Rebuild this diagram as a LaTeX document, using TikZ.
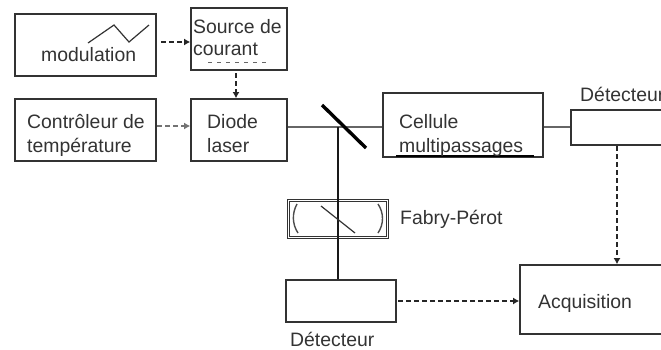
\documentclass[tikz,border=0pt]{standalone}
\usepackage{fontspec}
\setmainfont{Liberation Sans}
\usetikzlibrary{arrows.meta}
\tikzset{
	box/.style={draw=black!80, line width=1.7pt, inner sep=0pt},
	label/.style={anchor=base west, inner sep=0pt, align=left, text=black!80, font=\fontsize{19.4}{24}\selectfont},
	beam/.style={draw=black!60, line width=2.4pt},
	dasharrow/.style={draw=black!85, line width=1.4pt, dash pattern=on 5pt off 3pt, -{Latex[length=6pt,width=7pt]}},
}

\begin{document}
\begin{tikzpicture}[x=1pt, y=-1pt]
	\clip (0, 0) rectangle (661, 349);

	% boxes
	\node[box, minimum width=141pt, minimum height=62pt] (M) at (85.5, 45) {};
	\node[box, minimum width=96pt, minimum height=62pt] (S) at (239, 39) {};
	\node[box, minimum width=141pt, minimum height=62pt] (T) at (85.5, 130) {};
	\node[box, minimum width=96pt, minimum height=62pt] (L) at (239, 130) {};
	\node[box, minimum width=160pt, minimum height=64pt] (C) at (463, 125) {};
	\node[box, minimum width=129pt, minimum height=35pt] (R) at (635.5, 127.5) {};
	\node[box, double, line width=1.2pt, double distance=1.2pt, minimum width=99pt, minimum height=37pt] (F) at (338, 219) {};
	\node[box, minimum width=110pt, minimum height=42pt] (D) at (341, 301) {};
	\node[box, minimum width=180pt, minimum height=69pt] (Q) at (610, 299.5) {};
	\coordinate (K) at (338, 127);

	% beams
	\draw[beam] (L.east |- K) -- (C.west |- K);
	\draw[beam] (C.east |- K) -- (R.west |- K);
	\draw[black!90, line width=2.4pt] (K) -- (K |- D.north);
	\draw[black, line width=3.4pt] (322, 105) -- (366, 148);

	% dashed arrows
	\coordinate (M1) at (161, 42);
	\coordinate (S1) at (236, 73);
	\coordinate (T1) at (157, 126);
	\coordinate (D1) at (398, 301);
	\coordinate (R1) at (617, 146);
	\draw[dasharrow] (M1) -- (M1 -| S.west);
	\draw[dasharrow] (S1) -- (S1 |- L.north);
	\draw[dasharrow, draw=black!55] (T1) -- (T1 -| L.west);
	\draw[dasharrow] (D1) -- (D1 -| Q.west);
	\draw[dasharrow] (R1) -- (R1 |- Q.north);

	% small marks
	\draw[black!80, line width=1.2pt] (88, 43) -- (114, 25) -- (129, 42) -- (149, 25);
	\draw[black!60, line width=.8pt, dash pattern=on 4pt off 5pt] (208, 62) -- (268, 62);
	\draw[black, line width=1.2pt] (396, 156) -- (534, 156);
	\draw[black!70, line width=1.4pt] (297, 204) .. controls (292, 213) and (292, 224) .. (298, 233);
	\draw[black!70, line width=1.4pt] (378, 204) .. controls (384, 213) and (384, 224) .. (378, 233);
	\draw[black!80, line width=1.2pt] (321, 206) -- (355, 233);

	% texts
	\node[label] (t1) at (41, 61) {modulation};
	\node[label] (t2) at (193, 33) {Source de};
	\node[label] (t3) at (193, 55) {courant};
	\node[label] (t4) at (27, 128) {Contrôleur de};
	\node[label] (t5) at (27, 152) {température};
	\node[label] (t6) at (207, 128) {Diode};
	\node[label] (t7) at (207, 152) {laser};
	\node[label] (t8) at (399, 128) {Cellule};
	\node[label] (t9) at (399, 152) {multipassages};
	\node[label] (t10) at (580, 101) {Détecteur};
	\node[label] (t11) at (400, 224) {Fabry-Pérot};
	\node[label] (t12) at (290, 346) {Détecteur};
	\node[label] (t13) at (538, 308) {Acquisition};
\end{tikzpicture}
\end{document}
